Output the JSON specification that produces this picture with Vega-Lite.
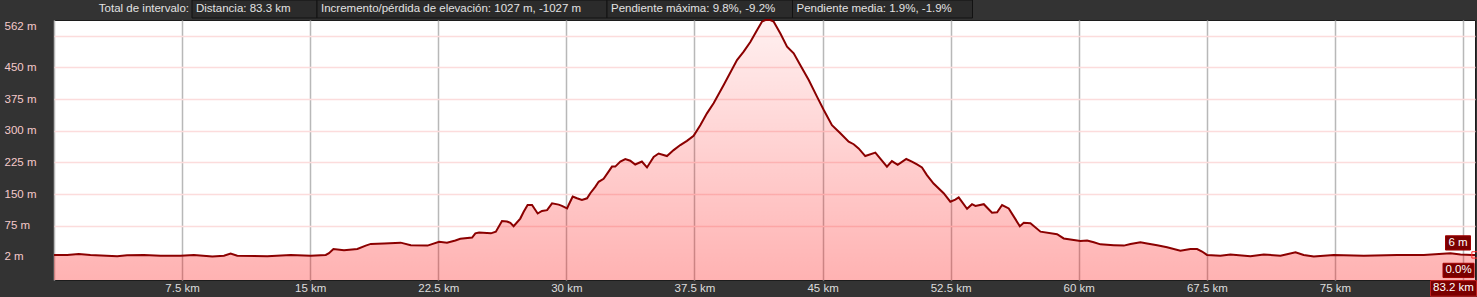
{
  "$schema": "https://vega.github.io/schema/vega-lite/v6.json",
  "width": 1421,
  "height": 260,
  "autosize": {"type": "none"},
  "padding": {"left": 54, "top": 20, "right": 2, "bottom": 17},
  "background": "#333333",
  "config": {
    "font": "Liberation Sans",
    "view": {"stroke": "#1c1c1c", "strokeWidth": 1, "fill": "#ffffff"},
    "scale": {"continuousPadding": 0}
  },
  "datasets": {
    "profile": [
      {"km": 0.0, "elev": 6}, {"km": 0.77, "elev": 6}, {"km": 1.45, "elev": 8}, {"km": 2.13, "elev": 6},
      {"km": 3.7, "elev": 3}, {"km": 4.28, "elev": 5}, {"km": 5.26, "elev": 6}, {"km": 6.24, "elev": 4},
      {"km": 7.41, "elev": 4}, {"km": 8.19, "elev": 6}, {"km": 9.27, "elev": 2}, {"km": 9.95, "elev": 4},
      {"km": 10.34, "elev": 9}, {"km": 10.73, "elev": 4}, {"km": 12.49, "elev": 3}, {"km": 13.86, "elev": 6},
      {"km": 15.03, "elev": 4}, {"km": 15.91, "elev": 6}, {"km": 16.1, "elev": 10}, {"km": 16.36, "elev": 20},
      {"km": 16.98, "elev": 17}, {"km": 17.76, "elev": 20}, {"km": 18.25, "elev": 28}, {"km": 18.55, "elev": 32},
      {"km": 19.33, "elev": 33}, {"km": 20.3, "elev": 35}, {"km": 20.89, "elev": 29}, {"km": 21.87, "elev": 28},
      {"km": 22.55, "elev": 37}, {"km": 23.01, "elev": 35}, {"km": 23.5, "elev": 40}, {"km": 23.79, "elev": 44},
      {"km": 24.48, "elev": 47}, {"km": 24.67, "elev": 57}, {"km": 24.89, "elev": 59}, {"km": 25.58, "elev": 57},
      {"km": 25.87, "elev": 61}, {"km": 26.23, "elev": 86}, {"km": 26.52, "elev": 85}, {"km": 26.72, "elev": 82},
      {"km": 26.91, "elev": 74}, {"km": 27.3, "elev": 92}, {"km": 27.5, "elev": 108}, {"km": 27.73, "elev": 124},
      {"km": 27.99, "elev": 124}, {"km": 28.32, "elev": 104}, {"km": 28.57, "elev": 110}, {"km": 28.87, "elev": 112},
      {"km": 29.16, "elev": 128}, {"km": 29.55, "elev": 125}, {"km": 29.74, "elev": 122}, {"km": 30.04, "elev": 116},
      {"km": 30.13, "elev": 124}, {"km": 30.37, "elev": 144}, {"km": 30.62, "elev": 140}, {"km": 30.91, "elev": 136},
      {"km": 31.21, "elev": 140}, {"km": 31.4, "elev": 152}, {"km": 31.69, "elev": 167}, {"km": 31.89, "elev": 179},
      {"km": 32.18, "elev": 186}, {"km": 32.47, "elev": 203}, {"km": 32.67, "elev": 215}, {"km": 32.86, "elev": 215},
      {"km": 33.16, "elev": 227}, {"km": 33.45, "elev": 233}, {"km": 33.74, "elev": 229}, {"km": 34.03, "elev": 220},
      {"km": 34.42, "elev": 227}, {"km": 34.72, "elev": 213}, {"km": 35.11, "elev": 238}, {"km": 35.4, "elev": 246},
      {"km": 35.89, "elev": 240}, {"km": 36.28, "elev": 254}, {"km": 36.67, "elev": 266}, {"km": 37.06, "elev": 276},
      {"km": 37.45, "elev": 288}, {"km": 37.84, "elev": 313}, {"km": 38.23, "elev": 341}, {"km": 38.62, "elev": 365},
      {"km": 39.21, "elev": 408}, {"km": 39.99, "elev": 467}, {"km": 40.38, "elev": 487}, {"km": 40.77, "elev": 510},
      {"km": 41.16, "elev": 538}, {"km": 41.45, "elev": 558}, {"km": 41.65, "elev": 562}, {"km": 41.94, "elev": 562},
      {"km": 42.14, "elev": 558}, {"km": 42.53, "elev": 530}, {"km": 42.92, "elev": 499}, {"km": 43.31, "elev": 483},
      {"km": 43.7, "elev": 455}, {"km": 44.19, "elev": 420}, {"km": 44.68, "elev": 380}, {"km": 45.07, "elev": 349},
      {"km": 45.55, "elev": 313}, {"km": 46.04, "elev": 294}, {"km": 46.53, "elev": 274}, {"km": 46.82, "elev": 268},
      {"km": 47.11, "elev": 258}, {"km": 47.5, "elev": 240}, {"km": 48.09, "elev": 248}, {"km": 48.38, "elev": 234},
      {"km": 48.77, "elev": 215}, {"km": 49.06, "elev": 228}, {"km": 49.4, "elev": 219}, {"km": 49.9, "elev": 233},
      {"km": 50.23, "elev": 227}, {"km": 50.53, "elev": 220}, {"km": 50.82, "elev": 213}, {"km": 51.11, "elev": 195},
      {"km": 51.5, "elev": 175}, {"km": 52.09, "elev": 152}, {"km": 52.48, "elev": 132}, {"km": 52.77, "elev": 137},
      {"km": 52.97, "elev": 142}, {"km": 53.46, "elev": 115}, {"km": 53.75, "elev": 126}, {"km": 53.95, "elev": 122},
      {"km": 54.44, "elev": 126}, {"km": 54.92, "elev": 106}, {"km": 55.22, "elev": 107}, {"km": 55.51, "elev": 124},
      {"km": 55.9, "elev": 116}, {"km": 56.55, "elev": 74}, {"km": 56.78, "elev": 82}, {"km": 57.17, "elev": 81},
      {"km": 57.76, "elev": 61}, {"km": 58.73, "elev": 55}, {"km": 59.12, "elev": 45}, {"km": 60.1, "elev": 39},
      {"km": 60.49, "elev": 40}, {"km": 60.88, "elev": 36}, {"km": 61.27, "elev": 31}, {"km": 62.05, "elev": 29},
      {"km": 62.64, "elev": 28}, {"km": 63.03, "elev": 32}, {"km": 63.61, "elev": 36}, {"km": 64.0, "elev": 33},
      {"km": 64.59, "elev": 29}, {"km": 65.17, "elev": 24}, {"km": 65.95, "elev": 16}, {"km": 66.54, "elev": 20},
      {"km": 66.93, "elev": 20}, {"km": 67.22, "elev": 14}, {"km": 67.51, "elev": 6}, {"km": 68.29, "elev": 4},
      {"km": 68.88, "elev": 7}, {"km": 70.05, "elev": 3}, {"km": 70.83, "elev": 7}, {"km": 71.81, "elev": 4},
      {"km": 72.69, "elev": 12}, {"km": 73.17, "elev": 6}, {"km": 73.76, "elev": 2}, {"km": 74.93, "elev": 6},
      {"km": 76.69, "elev": 4}, {"km": 78.64, "elev": 6}, {"km": 80.2, "elev": 6}, {"km": 81.76, "elev": 10},
      {"km": 82.35, "elev": 7}, {"km": 83.03, "elev": 6}, {"km": 83.2, "elev": 6}
    ],
    "endpoint": [
      {"km": 83.2, "elev": 6, "elevLabel": "6 m", "slopeLabel": "0.0%", "distLabel": "83.2 km"}
    ],
    "header": [
      {"t": "Distancia: 83.3 km"},
      {"t": "Incremento/pérdida de elevación: 1027 m, -1027 m"},
      {"t": "Pendiente máxima: 9.8%, -9.2%"},
      {"t": "Pendiente media: 1.9%, -1.9%"}
    ],
    "intro": [
      {"t": "Total de intervalo:"}
    ]
  },
  "layer": [
    {
      "layer": [
        {
          "data": {"name": "profile"},
          "mark": {
            "type": "area",
            "interpolate": "linear",
            "fill": {
              "gradient": "linear", "x1": 0, "y1": 0, "x2": 0, "y2": 1,
              "stops": [
                {"offset": 0, "color": "rgba(255,0,0,0.06)"},
                {"offset": 1, "color": "rgba(255,0,0,0.30)"}
              ]
            },
            "fillOpacity": 1
          },
          "encoding": {
            "x": {
              "field": "km", "type": "quantitative", "title": null,
              "scale": {"domain": [0, 83.2], "nice": false, "zero": false, "padding": 0},
              "axis": {
                "values": [0, 7.5, 15, 22.5, 30, 37.5, 45, 52.5, 60, 67.5, 75, 82.5],
                "tickCount": 100,
                "labelExpr": "datum.value == 0 || datum.value > 80 ? '' : datum.value + ' km'",
                "grid": true, "gridColor": "#b8b8b8", "gridWidth": 1.5,
                "domain": false, "ticks": false,
                "labelColor": "#dddddd", "labelFontSize": 11.5, "labelPadding": 2,
                "labelOverlap": false, "labelFlush": false
              }
            },
            "y": {
              "field": "elev", "type": "quantitative", "title": null,
              "scale": {"domain": [-53.4, 562], "nice": false, "zero": false, "padding": 0},
              "axis": {
                "values": [2, 75, 150, 225, 300, 375, 450, 525, 562],
                "tickCount": 100,
                "labelExpr": "datum.value == 525 ? '' : datum.value + ' m'",
                "grid": true, "gridColor": "#fcdcdc", "gridWidth": 1.5,
                "gridOpacity": {"condition": {"test": "datum.value == 2 || datum.value == 562", "value": 0}, "value": 1},
                "domain": false, "ticks": false,
                "labelAlign": "left", "labelPadding": 50, "labelFlush": true,
                "labelColor": "#f5caca", "labelFontSize": 11.5, "labelOverlap": false
              }
            },
            "y2": {"datum": -53.4}
          }
        },
        {
          "data": {"name": "profile"},
          "mark": {"type": "line", "interpolate": "linear", "color": "#8b0000", "strokeWidth": 2},
          "encoding": {
            "x": {"field": "km", "type": "quantitative", "title": null, "scale": {"domain": [0, 83.2], "nice": false, "zero": false, "padding": 0}},
            "y": {"field": "elev", "type": "quantitative", "title": null, "scale": {"domain": [-53.4, 562], "nice": false, "zero": false, "padding": 0}}
          }
        },
        {
          "data": {"name": "endpoint"},
          "mark": {"type": "point", "shape": "square", "size": 40, "filled": false, "stroke": "#ff2a2a", "strokeWidth": 1, "opacity": 1},
          "encoding": {
            "x": {"field": "km", "type": "quantitative", "title": null, "scale": {"domain": [0, 83.2], "nice": false, "zero": false, "padding": 0}},
            "y": {"field": "elev", "type": "quantitative", "title": null, "scale": {"domain": [-53.4, 562], "nice": false, "zero": false, "padding": 0}}
          }
        },
        {
          "data": {"name": "endpoint"},
          "mark": {"type": "point", "shape": "M-1,-0.57H1V0.57H-1Z", "size": 625, "filled": true, "fill": "#7a0000", "stroke": "#a00000", "strokeWidth": 1, "opacity": 1, "xOffset": -17, "yOffset": -12},
          "encoding": {
            "x": {"field": "km", "type": "quantitative", "title": null, "scale": {"domain": [0, 83.2], "nice": false, "zero": false, "padding": 0}},
            "y": {"field": "elev", "type": "quantitative", "title": null, "scale": {"domain": [-53.4, 562], "nice": false, "zero": false, "padding": 0}}
          }
        },
        {
          "data": {"name": "endpoint"},
          "mark": {"type": "text", "color": "#ffffff", "fontSize": 11.5, "align": "center", "baseline": "middle", "xOffset": -17, "yOffset": -12},
          "encoding": {
            "x": {"field": "km", "type": "quantitative", "title": null, "scale": {"domain": [0, 83.2], "nice": false, "zero": false, "padding": 0}},
            "y": {"field": "elev", "type": "quantitative", "title": null, "scale": {"domain": [-53.4, 562], "nice": false, "zero": false, "padding": 0}},
            "text": {"field": "elevLabel"}
          }
        },
        {
          "data": {"name": "endpoint"},
          "mark": {"type": "point", "shape": "M-1,-0.46H1V0.46H-1Z", "size": 961, "filled": true, "fill": "#7a0000", "stroke": "#a00000", "strokeWidth": 1, "opacity": 1, "xOffset": -16.5, "yOffset": 15.5},
          "encoding": {
            "x": {"field": "km", "type": "quantitative", "title": null, "scale": {"domain": [0, 83.2], "nice": false, "zero": false, "padding": 0}},
            "y": {"field": "elev", "type": "quantitative", "title": null, "scale": {"domain": [-53.4, 562], "nice": false, "zero": false, "padding": 0}}
          }
        },
        {
          "data": {"name": "endpoint"},
          "mark": {"type": "text", "color": "#ffffff", "fontSize": 11.5, "align": "center", "baseline": "middle", "xOffset": -16.5, "yOffset": 15.5},
          "encoding": {
            "x": {"field": "km", "type": "quantitative", "title": null, "scale": {"domain": [0, 83.2], "nice": false, "zero": false, "padding": 0}},
            "y": {"field": "elev", "type": "quantitative", "title": null, "scale": {"domain": [-53.4, 562], "nice": false, "zero": false, "padding": 0}},
            "text": {"field": "slopeLabel"}
          }
        },
        {
          "data": {"name": "endpoint"},
          "mark": {"type": "point", "shape": "M-1,-0.34H1V0.34H-1Z", "size": 2116, "filled": true, "fill": "#7a0000", "stroke": "#c02020", "strokeWidth": 1, "opacity": 1, "xOffset": -21.5, "yOffset": 33.5},
          "encoding": {
            "x": {"field": "km", "type": "quantitative", "title": null, "scale": {"domain": [0, 83.2], "nice": false, "zero": false, "padding": 0}},
            "y": {"field": "elev", "type": "quantitative", "title": null, "scale": {"domain": [-53.4, 562], "nice": false, "zero": false, "padding": 0}}
          }
        },
        {
          "data": {"name": "endpoint"},
          "mark": {"type": "text", "color": "#ffffff", "fontSize": 11.5, "align": "center", "baseline": "middle", "xOffset": -21.5, "yOffset": 33.5},
          "encoding": {
            "x": {"field": "km", "type": "quantitative", "title": null, "scale": {"domain": [0, 83.2], "nice": false, "zero": false, "padding": 0}},
            "y": {"field": "elev", "type": "quantitative", "title": null, "scale": {"domain": [-53.4, 562], "nice": false, "zero": false, "padding": 0}},
            "text": {"field": "distLabel"}
          }
        }
      ]
    },
    {
      "layer": [
        {
          "data": {"name": "header"},
          "transform": [
            {"calculate": "length(datum.t) * 5.5 + 26", "as": "w"},
            {"window": [{"op": "sum", "field": "w", "as": "end"}], "frame": [null, 0]},
            {"calculate": "datum.end - datum.w", "as": "start"}
          ],
          "mark": {"type": "bar", "fill": "#2b2b2b", "stroke": "#121212", "strokeWidth": 1, "height": 18, "yOffset": -11},
          "encoding": {
            "x": {"field": "start", "type": "quantitative", "title": null, "axis": null, "scale": {"domain": [-138, 1283], "nice": false, "zero": false, "padding": 0}},
            "x2": {"field": "end"},
            "y": {"datum": 562, "type": "quantitative", "title": null, "scale": {"domain": [-53.4, 562], "nice": false, "zero": false, "padding": 0}}
          }
        },
        {
          "data": {"name": "header"},
          "transform": [
            {"calculate": "length(datum.t) * 5.5 + 26", "as": "w"},
            {"window": [{"op": "sum", "field": "w", "as": "end"}], "frame": [null, 0]},
            {"calculate": "datum.end - datum.w", "as": "start"}
          ],
          "mark": {"type": "text", "align": "left", "baseline": "middle", "dx": 4, "yOffset": -11, "color": "#e2e2e2", "fontSize": 11.5},
          "encoding": {
            "x": {"field": "start", "type": "quantitative", "title": null, "axis": null, "scale": {"domain": [-138, 1283], "nice": false, "zero": false, "padding": 0}},
            "y": {"datum": 562, "type": "quantitative", "title": null, "scale": {"domain": [-53.4, 562], "nice": false, "zero": false, "padding": 0}},
            "text": {"field": "t"}
          }
        },
        {
          "data": {"name": "intro"},
          "mark": {"type": "text", "align": "right", "baseline": "middle", "dx": -3, "yOffset": -11, "color": "#e2e2e2", "fontSize": 11.5},
          "encoding": {
            "x": {"datum": 0, "type": "quantitative", "title": null, "axis": null, "scale": {"domain": [-138, 1283], "nice": false, "zero": false, "padding": 0}},
            "y": {"datum": 562, "type": "quantitative", "title": null, "scale": {"domain": [-53.4, 562], "nice": false, "zero": false, "padding": 0}},
            "text": {"field": "t"}
          }
        }
      ]
    }
  ],
  "resolve": {"scale": {"x": "independent"}, "axis": {"x": "independent"}}
}
